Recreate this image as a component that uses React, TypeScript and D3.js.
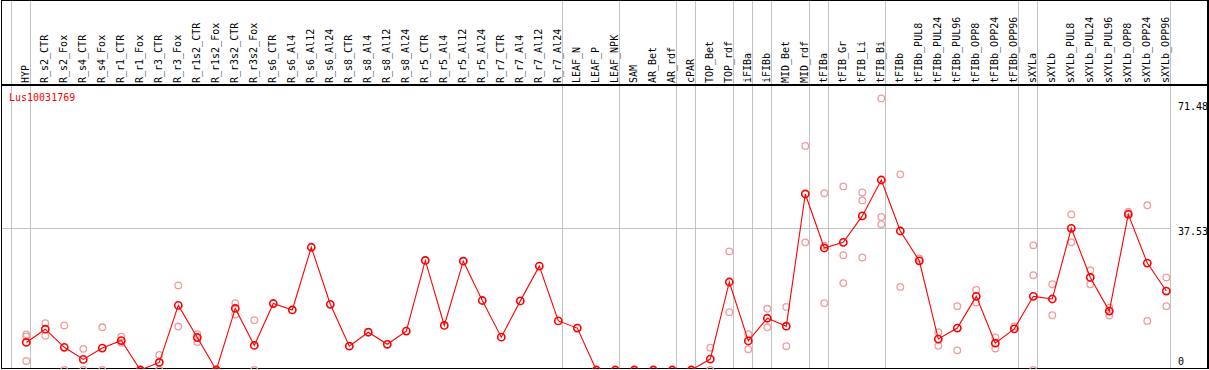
import React from "react";
import * as d3 from "d3";

const columns = [
  "HYP","R_s2_CTR","R_s2_Fox","R_s4_CTR","R_s4_Fox","R_r1_CTR","R_r1_Fox","R_r3_CTR","R_r3_Fox",
  "R_r1s2_CTR","R_r1s2_Fox","R_r3s2_CTR","R_r3s2_Fox","R_s6_CTR","R_s6_Al4","R_s6_Al12","R_s6_Al24",
  "R_s8_CTR","R_s8_Al4","R_s8_Al12","R_s8_Al24","R_r5_CTR","R_r5_Al4","R_r5_Al12","R_r5_Al24",
  "R_r7_CTR","R_r7_Al4","R_r7_Al12","R_r7_Al24","LEAF_N","LEAF_P","LEAF_NPK","SAM","AR_Bet","AR_rdf",
  "cPAR","TOP_Bet","TOP_rdf","iFIBa","iFIBb","MID_Bet","MID_rdf","tFIBa","tFIB_Gr","tFIB_Li","tFIB_Bi",
  "tFIBb","tFIBb_PUL8","tFIBb_PUL24","tFIBb_PUL96","tFIBb_OPP8","tFIBb_OPP24","tFIBb_OPP96",
  "sXYLa","sXYLb","sXYLb_PUL8","sXYLb_PUL24","sXYLb_PUL96","sXYLb_OPP8","sXYLb_OPP24","sXYLb_OPP96"
];

const meanValues = [
  7.3,10.8,6.0,2.8,5.8,7.8,0,2.0,17.1,8.6,0,16.3,6.5,17.6,15.9,32.5,17.4,6.3,10.0,6.8,10.3,
  29.0,11.8,28.8,18.4,8.7,18.3,27.5,13.0,11.1,0,0,0,0,0,0,2.9,23.3,7.7,13.7,11.6,46.6,32.3,
  33.8,40.8,50.3,36.8,28.9,8.2,11.1,19.5,7.1,10.9,19.5,18.8,37.5,24.5,15.6,41.2,28.3,20.9
];

const repA: (number | null)[] = [
  9.4,12.4,11.8,5.6,11.3,8.8,0,4.0,22.4,9.5,0,17.7,13.2,null,null,null,null,null,null,null,null,
  null,null,null,null,null,null,null,null,null,null,null,null,null,null,null,5.9,31.4,9.5,16.2,16.7,59.3,46.8,
  48.6,47.0,71.9,51.8,29.5,10.0,16.9,21.2,8.6,11.5,33.0,22.7,41.2,26.4,16.5,41.9,43.6,24.5
];
const repB: (number | null)[] = [
  8.9,9.1,0,0,0,7.2,0,0,11.5,7.4,0,14.7,0,null,null,null,null,null,null,null,null,
  null,null,null,null,null,null,null,null,null,null,null,null,null,null,null,0,15.3,5.5,11.3,6.3,33.8,17.7,
  30.4,44.9,40.5,22.0,null,6.4,5.2,17.9,5.7,null,25.1,14.5,33.8,22.7,14.4,41.5,13.0,16.9
];
const repC: (number | null)[] = [
  2.4,null,null,null,null,null,null,null,null,null,null,null,null,null,null,null,null,null,null,null,null,
  null,null,null,null,null,null,null,null,null,null,null,null,null,null,null,null,null,null,null,null,null,32.9,
  23.0,29.8,38.6,null,null,null,null,null,null,null,0,null,null,null,null,null,null,null
];

const groupEnds = [-1, 0, 28, 31, 34, 35, 37, 38, 39, 41, 42, 45, 52, 53, 60];
const tickValues = [0, 37.53, 71.48];
const geneName = "Lus10031769";

const W = 1209, H = 370;
const FONT = "'DejaVu Sans Mono', 'Liberation Mono', monospace";

export default function App() {
  const x = d3.scaleLinear().domain([0, columns.length - 1]).range([26.3, 1166.3]);
  const y = d3.scaleLinear().domain([0, 71.48]).range([370, 100]);
  const line = d3.line<number>().x((_, i) => x(i)).y((d) => y(d));
  const reps = [repA, repB, repC];
  const midY = Math.round(y(37.53)) + 0.5;

  return (
    <svg width={W} height={H} style={{ position: "absolute", left: 0, top: 0, background: "#fff" }}
      fontFamily={FONT} fontSize={10}>
      <defs>
        <clipPath id="plotclip"><rect x={1} y={85} width={1207} height={284} /></clipPath>
      </defs>
      <rect x={0} y={0} width={W} height={H} fill="#fff" />
      {groupEnds.map((g) => {
        const gx = Math.floor(x(g) + 4.4) + 0.5;
        return <line key={g} x1={gx} x2={gx} y1={0} y2={369} stroke="#c3c3c3" strokeWidth={1} shapeRendering="crispEdges" />;
      })}
      <line x1={1} x2={Math.round(x(60) + 4.4)} y1={midY} y2={midY} stroke="#c3c3c3" strokeWidth={1} shapeRendering="crispEdges" />
      <rect x={1.5} y={0.5} width={1206.5} height={368} fill="none" stroke="#000" strokeWidth={1.5} shapeRendering="crispEdges" />
      <line x1={1} x2={1208} y1={85} y2={85} stroke="#000" strokeWidth={1.5} shapeRendering="crispEdges" />
      {columns.map((c, i) => (
        <text key={c} transform={`translate(${x(i) + 3},83) rotate(-90)`} textAnchor="start" fill="#000">{c}</text>
      ))}
      <text x={9} y={101} fill="#ff0000">{geneName}</text>
      {tickValues.map((t, i) => (
        <text key={t} x={1178} y={i === 0 ? y(t) - 5 : i === 1 ? y(t) + 7 : y(t) + 10} fill="#000">{String(t)}</text>
      ))}
      <g clipPath="url(#plotclip)">
        {reps.map((r, k) =>
          r.map((v, i) => v === null ? null : (
            <circle key={`r${k}-${i}`} cx={x(i)} cy={y(v)} r={3.3} fill="none" stroke="#f29c9c" strokeWidth={1.3} />
          ))
        )}
        <path d={line(meanValues) || ""} fill="none" stroke="#ff0000" strokeWidth={1.1} />
        {meanValues.map((v, i) => (
          <circle key={`m${i}`} cx={x(i)} cy={y(v)} r={3.6} fill="none" stroke="#ff0000" strokeWidth={1.6} />
        ))}
      </g>
    </svg>
  );
}
